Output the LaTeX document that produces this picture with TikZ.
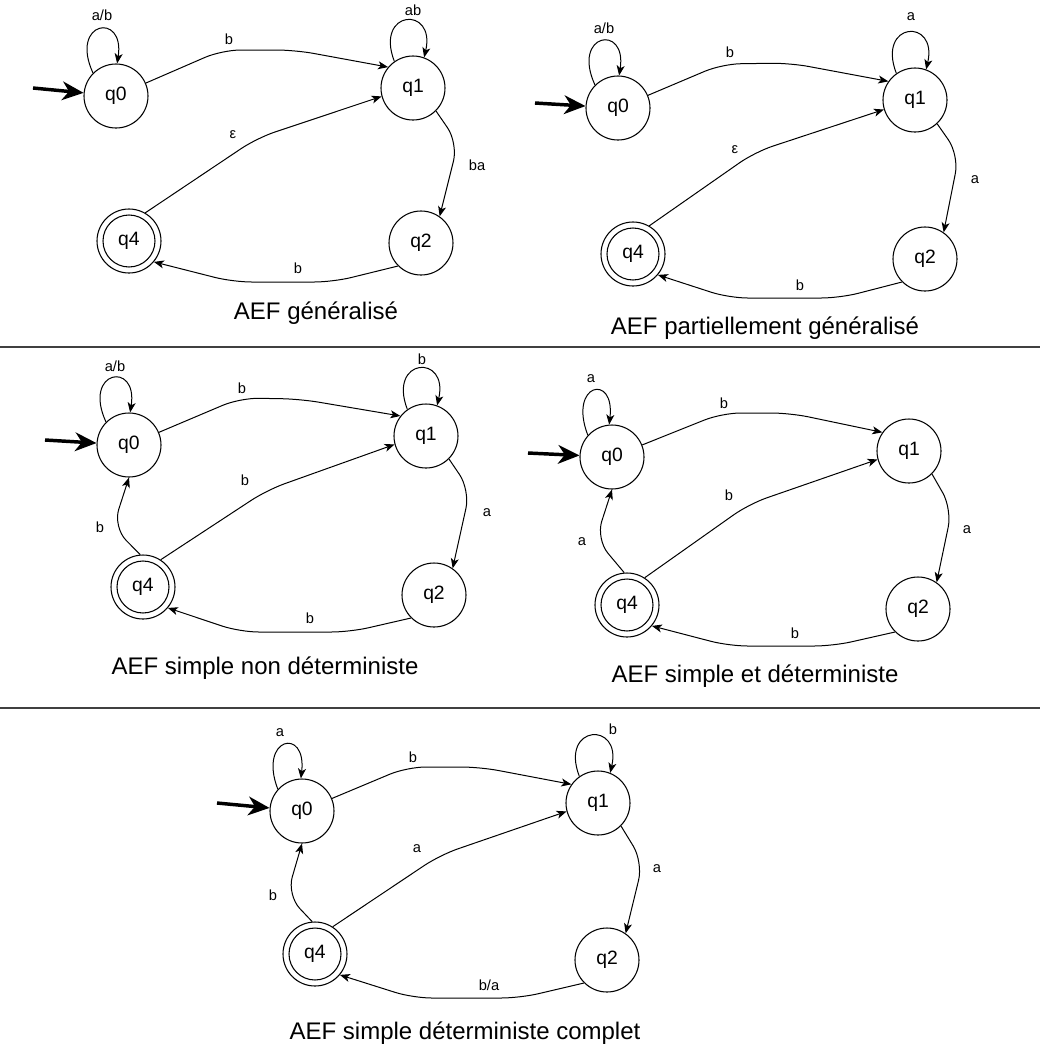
\documentclass[tikz,border=0pt]{standalone}
\usepackage{fontspec}
\setmainfont{Liberation Sans}
\usetikzlibrary{arrows.meta}
\begin{document}
\begin{tikzpicture}[x=0.75pt,y=-0.75pt,
  state/.style={circle,draw,line width=0.8pt,minimum size=48pt,inner sep=0pt,font=\fontsize{14.5}{16}\selectfont},
  accept/.style={path picture={\draw[line width=0.8pt] (path picture bounding box.center) circle[radius=19.5pt];}},
  edge/.style={draw,line width=0.75pt,-{Stealth[length=7.5pt,width=6pt,inset=2pt]},rounded corners=14pt},
  loopedge/.style={draw,line width=0.75pt,-{Stealth[length=7.5pt,width=6pt,inset=2pt]}},
  init/.style={draw,line width=2.6pt,-{Stealth[length=16pt,width=14pt,inset=5pt]}},
  lbl/.style={inner sep=0pt,font=\fontsize{11}{13}\selectfont},
  captext/.style={inner sep=0pt,font=\fontsize{18}{20}\selectfont},
  rulestyle/.style={draw,line width=1.1pt,color=black!75}]
\useasboundingbox (0,0) rectangle (1048,1051);

% ---------- Automaton 1 : AEF generalise ----------
\node[state] (aq0) at (116,96) {q0};
\node[state] (aq1) at (413,88) {q1};
\node[state] (aq2) at (421,243) {q2};
\node[state,accept] (aq4) at (129,241) {q4};
\coordinate (ai) at (33,88);
\draw[init] (ai) -- (aq0);
\draw[loopedge] (aq0.135) .. controls +(-24,-52) and +(8,-52) .. (aq0.88);
\node[lbl] (al1) at (102,15) {a/b};
\draw[edge] (aq0) -- (222,50) -- (295,50) -- (aq1.140);
\node[lbl] (al2) at (229,39) {b};
\draw[loopedge] (aq1.125) .. controls +(-20,-52) and +(12,-52) .. (aq1.70);
\node[lbl] (al3) at (413,10) {ab};
\draw[edge] (aq1.-45) -- (458,143) -- (aq2.55);
\node[lbl] (al4) at (477,165) {ba};
\draw[edge] (aq4.60) -- (257,138) -- (aq1.195);
\node[lbl] (al5) at (233,135) {ε};
\draw[edge] (aq2.225) -- (333,282) -- (233,282) -- (aq4.-40);
\node[lbl] (al6) at (298,268) {b};
\node[captext] (acap) at (316,313) {AEF généralisé};

\draw[rulestyle] (0,347) coordinate (r1a) -- (1040,347) coordinate (r1b);

% ---------- Automaton 2 : AEF partiellement generalise ----------
\node[state] (bq0) at (618,108) {q0};
\node[state] (bq1) at (915,100) {q1};
\node[state] (bq2) at (925,259) {q2};
\node[state,accept] (bq4) at (633,254) {q4};
\coordinate (bi) at (535,103);
\draw[init] (bi) -- (bq0);
\draw[loopedge] (bq0.135) .. controls +(-24,-52) and +(8,-52) .. (bq0.88);
\node[lbl] (bl1) at (604,28) {a/b};
\draw[edge] (bq0) -- (722,64) -- (790,63) -- (bq1.145);
\node[lbl] (bl2) at (730,52) {b};
\draw[loopedge] (bq1.125) .. controls +(-20,-52) and +(12,-52) .. (bq1.70);
\node[lbl] (bl3) at (911,17) {a};
\draw[edge] (bq1.-47) -- (959,155) -- (bq2.55);
\node[lbl] (bl4) at (975,180) {a};
\draw[edge] (bq4.60) -- (755,152) -- (bq1.197);
\node[lbl] (bl5) at (735,150) {ε};
\draw[edge] (bq2.225) -- (840,298) -- (729,298) -- (bq4.-40);
\node[lbl] (bl6) at (800,285) {b};
\node[captext] (bcap) at (765,328) {AEF partiellement généralisé};

% ---------- Automaton 3 : AEF simple non deterministe ----------
\node[state] (cq0) at (129,445) {q0};
\node[state] (cq1) at (426,436) {q1};
\node[state] (cq2) at (434,595) {q2};
\node[state,accept] (cq4) at (143,587) {q4};
\coordinate (ci) at (45,440);
\draw[init] (ci) -- (cq0);
\draw[loopedge] (cq0.135) .. controls +(-24,-52) and +(8,-52) .. (cq0.88);
\node[lbl] (cl1) at (115,366) {a/b};
\draw[edge] (cq0) -- (240,398) -- (300,399) -- (cq1.142);
\node[lbl] (cl2) at (242,388) {b};
\draw[loopedge] (cq1.125) .. controls +(-20,-52) and +(12,-52) .. (cq1.70);
\node[lbl] (cl3) at (422,359) {b};
\draw[edge] (cq1.-45) -- (470,490) -- (cq2.55);
\node[lbl] (cl4) at (487,513) {a};
\draw[edge] (cq4.57) -- (267,490) -- (cq1.195);
\node[lbl] (cl5) at (245,480) {b};
\draw[edge] (cq4.95) -- (113,527) -- (cq0.-90);
\node[lbl] (cl6) at (100,527) {b};
\draw[edge] (cq2.225) -- (350,632) -- (240,632) -- (cq4.-40);
\node[lbl] (cl7) at (310,618) {b};
\node[captext] (ccap) at (265,668) {AEF simple non déterministe};

% ---------- Automaton 4 : AEF simple et deterministe ----------
\node[state] (dq0) at (612,457) {q0};
\node[state] (dq1) at (909,451) {q1};
\node[state] (dq2) at (918,609) {q2};
\node[state,accept] (dq4) at (627,605) {q4};
\coordinate (di) at (528,453);
\draw[init] (di) -- (dq0);
\draw[loopedge] (dq0.138) .. controls +(-20,-52) and +(6,-52) .. (dq0.95);
\node[lbl] (dl1) at (591,379) {a};
\draw[edge] (dq0) -- (722,413) -- (790,413) -- (dq1.145);
\node[lbl] (dl2) at (724,403) {b};
\draw[edge] (dq1.-45) -- (952,509) -- (dq2.55);
\node[lbl] (dl3) at (967,530) {a};
\draw[edge] (dq4.57) -- (749,504) -- (dq1.195);
\node[lbl] (dl4) at (729,495) {b};
\draw[edge] (dq4.95) -- (596,539) -- (dq0.-90);
\node[lbl] (dl5) at (582,542) {a};
\draw[edge] (dq2.225) -- (833,646) -- (729,646) -- (dq4.-40);
\node[lbl] (dl6) at (795,633) {b};
\node[captext] (dcap) at (755,676) {AEF simple et déterministe};

\draw[rulestyle] (0,708) coordinate (r2a) -- (1040,708) coordinate (r2b);

% ---------- Automaton 5 : AEF simple deterministe complet ----------
\node[state] (eq0) at (302,811) {q0};
\node[state] (eq1) at (598,803) {q1};
\node[state] (eq2) at (607,960) {q2};
\node[state,accept] (eq4) at (315,954) {q4};
\coordinate (ei) at (217,803);
\draw[init] (ei) -- (eq0);
\draw[loopedge] (eq0.138) .. controls +(-20,-52) and +(6,-52) .. (eq0.92);
\node[lbl] (el1) at (280,733) {a};
\draw[edge] (eq0) -- (407,767) -- (480,767) -- (eq1.145);
\node[lbl] (el2) at (413,757) {b};
\draw[loopedge] (eq1.125) .. controls +(-20,-52) and +(12,-52) .. (eq1.68);
\node[lbl] (el3) at (613,729) {b};
\draw[edge] (eq1.-45) -- (643,862) -- (eq2.55);
\node[lbl] (el4) at (657,869) {a};
\draw[edge] (eq4.57) -- (440,855) -- (eq1.195);
\node[lbl] (el5) at (417,849) {a};
\draw[edge] (eq4.95) -- (287,895) -- (eq0.-90);
\node[lbl] (el6) at (273,895) {b};
\draw[edge] (eq2.225) -- (520,998) -- (413,998) -- (eq4.-40);
\node[lbl] (el7) at (489,985) {b/a};
\node[captext] (ecap) at (465,1033) {AEF simple déterministe complet};
\end{tikzpicture}
\end{document}
